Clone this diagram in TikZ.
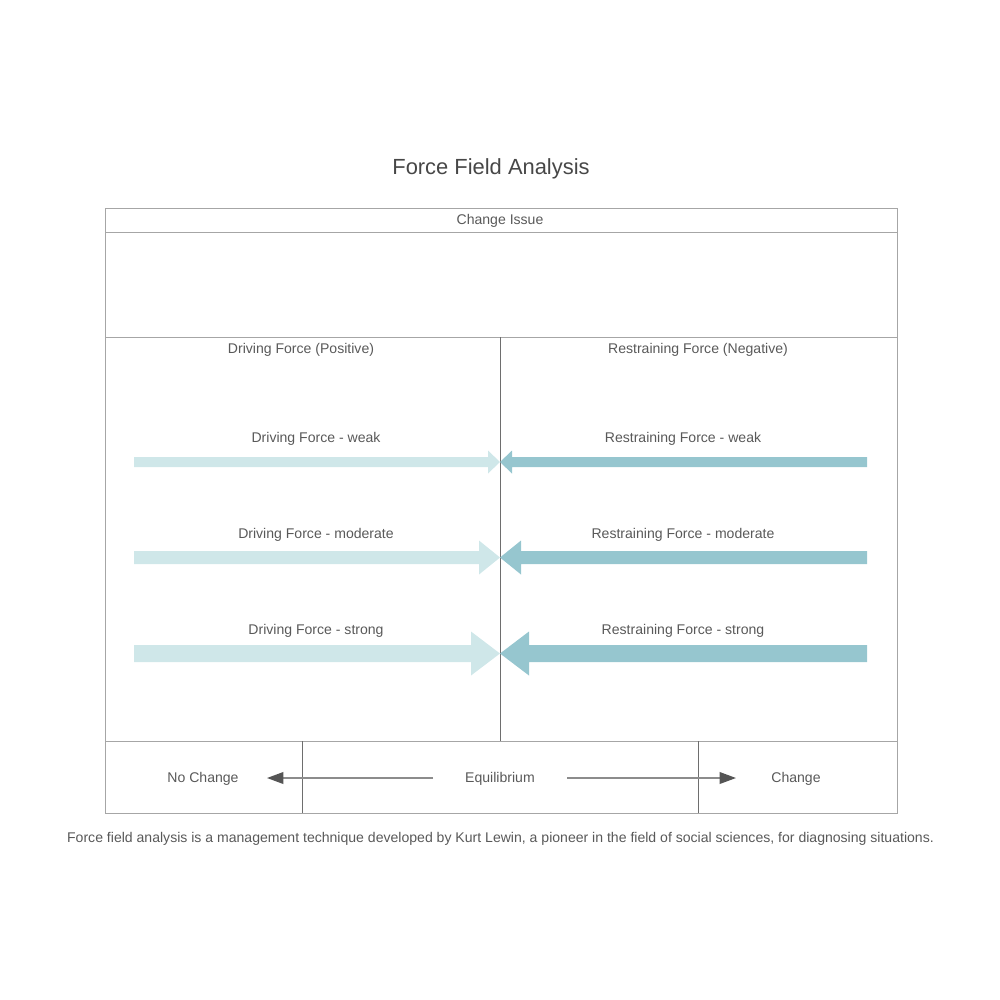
\documentclass[tikz,border=0pt]{standalone}
\usepackage{fontspec}
\setmainfont{Liberation Sans}
\usetikzlibrary{arrows.meta}
\definecolor{txt}{HTML}{595959}
\definecolor{boxline}{HTML}{A6A6A6}
\definecolor{divline}{HTML}{6E6E6E}
\definecolor{drivecol}{HTML}{CFE7E9}
\definecolor{restcol}{HTML}{96C6CF}
\definecolor{eqline}{HTML}{8C8C8C}
\definecolor{eqhead}{HTML}{555555}
\tikzset{
  lbl/.style={text=txt, font=\fontsize{12pt}{14pt}\selectfont, inner sep=0pt, anchor=center, yshift=-1.5pt},
  ttl/.style={text=txt!80!black, font=\fontsize{18.7pt}{22pt}\selectfont, inner sep=0pt, anchor=center, yshift=-1.5pt},
  frame/.style={draw=boxline, line width=0.7pt},
  divider/.style={draw=divline, line width=0.7pt},
  eqarrow/.style={draw=eqline, line width=1.3pt, -{Triangle[length=14pt,width=10pt,color=eqhead]}},
}
% \ffarrow{colour}{y}{tail x}{head base x}{tip x}{half shaft}{half head}
\newcommand\ffarrow[7]{%
  \fill[#1] (#3,#2-#6) -- (#4,#2-#6) -- (#4,#2-#7) -- (#5,#2) -- (#4,#2+#7) -- (#4,#2+#6) -- (#3,#2+#6) -- cycle;}
\begin{document}
\begin{tikzpicture}[x=0.03cm,y=-0.03cm]
\useasboundingbox (0,0) rectangle (1000,1000);
% title
\node[ttl] (title) at (491,167) {Force Field Analysis};
% frame
\draw[frame] (105,208) rectangle (897,813);
\draw[frame] (105,232) -- (897,232);
\draw[frame] (105,337) -- (897,337);
\draw[frame] (105,741) -- (897,741);
\draw[divider] (500,337) -- (500,741);
\draw[divider] (302,741) -- (302,813);
\draw[divider] (698,741) -- (698,813);
% headers
\node[lbl] (issue) at (500,219.5) {Change Issue};
\node[lbl] (drivehd) at (301,348) {Driving Force (Positive)};
\node[lbl] (resthd) at (698,348) {Restraining Force (Negative)};
% force labels
\node[lbl] (dw) at (316,437) {Driving Force - weak};
\node[lbl] (rw) at (683,437) {Restraining Force - weak};
\node[lbl] (dm) at (316,533) {Driving Force - moderate};
\node[lbl] (rm) at (683,533) {Restraining Force - moderate};
\node[lbl] (ds) at (316,629) {Driving Force - strong};
\node[lbl] (rs) at (683,629) {Restraining Force - strong};
% force arrows
\ffarrow{drivecol}{462}{134}{488}{500}{5}{11.5}
\ffarrow{restcol}{462}{867}{512}{500}{5}{11.5}
\ffarrow{drivecol}{557.5}{134}{479}{500}{6.5}{17}
\ffarrow{restcol}{557.5}{867}{521}{500}{6.5}{17}
\ffarrow{drivecol}{653.5}{134}{471}{500}{8.5}{22}
\ffarrow{restcol}{653.5}{867}{529}{500}{8.5}{22}
% bottom row
\node[lbl] (nochange) at (203,777.5) {No Change};
\node[lbl] (equil) at (500,777.5) {Equilibrium};
\node[lbl] (change) at (796,777.5) {Change};
\coordinate (lstart) at (433,778);
\coordinate (lend) at (267,778);
\coordinate (rstart) at (567,778);
\coordinate (rend) at (736,778);
\draw[eqarrow] (lstart) -- (lend);
\draw[eqarrow] (rstart) -- (rend);
% caption
\node[lbl] (caption) at (500.5,837.5) {Force field analysis is a management technique developed by Kurt Lewin, a pioneer in the field of social sciences, for diagnosing situations.};
\end{tikzpicture}
\end{document}
